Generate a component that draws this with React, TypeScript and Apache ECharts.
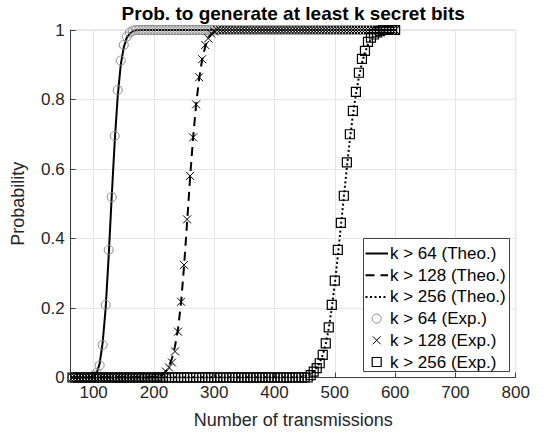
import React, { useEffect, useRef } from "react";
import * as echarts from "echarts";

const FONT = "'Liberation Sans', Arial, Helvetica, sans-serif";

// Experimental sample grid (number of transmissions)
const expTx = [
  65, 70, 75, 80, 85, 90, 95, 100, 105, 110,
  115, 120, 125, 130, 135, 140, 145, 150, 155, 160,
  165, 170, 175, 180, 185, 190, 195, 200, 205, 210,
  215, 220, 225, 230, 235, 240, 245, 250, 255, 260,
  265, 270, 275, 280, 285, 290, 295, 300, 305, 310,
  315, 320, 325, 330, 335, 340, 345, 350, 355, 360,
  365, 370, 375, 380, 385, 390, 395, 400, 405, 410,
  415, 420, 425, 430, 435, 440, 445, 450, 455, 460,
  465, 470, 475, 480, 485, 490, 495, 500, 505, 510,
  515, 520, 525, 530, 535, 540, 545, 550, 555, 560,
  565, 570, 575, 580, 585, 590, 595, 600,
];

const exp64 = [
  0, 0, 0, 0, 0, 0, 0, 0.005, 0.013, 0.035,
  0.094, 0.209, 0.367, 0.519, 0.695, 0.827, 0.912, 0.957, 0.981, 0.993,
  0.998, 1, 1, 1, 1, 1, 1, 1, 1, 1,
  1, 1, 1, 1, 1, 1, 1, 1, 1, 1,
  1, 1, 1, 1, 1, 1, 1, 1, 1, 1,
  1, 1, 1, 1, 1, 1, 1, 1, 1, 1,
  1, 1, 1, 1, 1, 1, 1, 1, 1, 1,
  1, 1, 1, 1, 1, 1, 1, 1, 1, 1,
  1, 1, 1, 1, 1, 1, 1, 1, 1, 1,
  1, 1, 1, 1, 1, 1, 1, 1, 1, 1,
  1, 1, 1, 1, 1, 1, 1, 1,
];

const exp128 = [
  0, 0, 0, 0, 0, 0, 0, 0, 0, 0,
  0, 0, 0, 0, 0, 0, 0, 0, 0, 0,
  0, 0, 0, 0, 0, 0, 0, 0, 0, 0,
  0, 0.017, 0.029, 0.043, 0.075, 0.132, 0.218, 0.324, 0.455, 0.58,
  0.691, 0.786, 0.864, 0.916, 0.957, 0.976, 0.99, 0.996, 1, 1,
  1, 1, 1, 1, 1, 1, 1, 1, 1, 1,
  1, 1, 1, 1, 1, 1, 1, 1, 1, 1,
  1, 1, 1, 1, 1, 1, 1, 1, 1, 1,
  1, 1, 1, 1, 1, 1, 1, 1, 1, 1,
  1, 1, 1, 1, 1, 1, 1, 1, 1, 1,
  1, 1, 1, 1, 1, 1, 1, 1,
];

const exp256 = [
  0, 0, 0, 0, 0, 0, 0, 0, 0, 0,
  0, 0, 0, 0, 0, 0, 0, 0, 0, 0,
  0, 0, 0, 0, 0, 0, 0, 0, 0, 0,
  0, 0, 0, 0, 0, 0, 0, 0, 0, 0,
  0, 0, 0, 0, 0, 0, 0, 0, 0, 0,
  0, 0, 0, 0, 0, 0, 0, 0, 0, 0,
  0, 0, 0, 0, 0, 0, 0, 0, 0, 0,
  0, 0, 0, 0, 0, 0, 0, 0, 0, 0.007,
  0.017, 0.027, 0.041, 0.065, 0.098, 0.144, 0.209, 0.279, 0.367, 0.445,
  0.523, 0.619, 0.7, 0.767, 0.822, 0.877, 0.917, 0.94, 0.966, 0.978,
  0.987, 0.993, 0.997, 1, 1, 1, 1, 1,
];

// Theoretical curves
const theo64Tx = [62, 95, 100, 105, 110, 115, 120, 125, 130, 135, 140, 145, 150, 155, 160, 165, 170, 180, 600];
const theo64 = [0, 0.001, 0.004, 0.012, 0.04, 0.1, 0.2, 0.35, 0.52, 0.68, 0.81, 0.9, 0.95, 0.978, 0.99, 0.996, 0.999, 1, 1];

const theo128Tx = [62, 200, 210, 215, 220, 225, 230, 235, 240, 245, 250, 255, 260, 265, 270, 275, 280, 285, 290, 295, 300, 310, 320, 600];
const theo128 = [0, 0.001, 0.004, 0.009, 0.018, 0.033, 0.055, 0.09, 0.14, 0.215, 0.32, 0.445, 0.575, 0.69, 0.785, 0.86, 0.915, 0.952, 0.975, 0.988, 0.995, 0.999, 1, 1];

const theo256Tx = [62, 430, 440, 450, 455, 460, 465, 470, 475, 480, 485, 490, 495, 500, 505, 510, 515, 520, 525, 530, 535, 540, 545, 550, 555, 560, 565, 570, 580, 590, 600];
const theo256 = [0, 0.001, 0.002, 0.004, 0.007, 0.011, 0.018, 0.028, 0.043, 0.065, 0.097, 0.142, 0.2, 0.27, 0.35, 0.435, 0.52, 0.605, 0.685, 0.755, 0.815, 0.865, 0.905, 0.935, 0.958, 0.974, 0.985, 0.992, 0.998, 1, 1];

const legendLabels = [
  "k > 64 (Theo.)",
  "k > 128 (Theo.)",
  "k > 256 (Theo.)",
  "k > 64 (Exp.)",
  "k > 128 (Exp.)",
  "k > 256 (Exp.)",
];

const xTicks = [100, 200, 300, 400, 500, 600, 700, 800];

const TITLE = "Prob. to generate at least k secret bits";

const DASH = [9, 6];
const DOT = [2, 2.5];
const CIRCLE_COLOR = "#8a8a8a";
const CROSS = "path://M0 0L10 10M10 0L0 10";

export default function App() {
  const ref = useRef<HTMLDivElement>(null);

  useEffect(() => {
    if (!ref.current) return;
    const chart = echarts.init(ref.current, null, { renderer: "svg" });
    const pairs = (xs: number[], ys: number[]) => xs.map((x, i) => [x, ys[i]]);

    const L = { x: 363.5, y: 238.5, w: 146, h: 133 };
    const rowY = (i: number) => L.y + 15 + i * 21.7;
    const sx1 = 365.5, sx2 = 388, mx = 376.7, tx = 390;
    const Z = 100;

    const legendEls: any[] = [
      {
        type: "rect",
        z: Z,
        shape: { x: L.x, y: L.y, width: L.w, height: L.h },
        style: { fill: "#fff", stroke: "#404040", lineWidth: 1 },
      },
      { type: "line", z: Z + 1, shape: { x1: sx1, y1: rowY(0), x2: sx2, y2: rowY(0) }, style: { stroke: "#000", lineWidth: 2 } },
      { type: "line", z: Z + 1, shape: { x1: sx1, y1: rowY(1), x2: sx2, y2: rowY(1) }, style: { stroke: "#000", lineWidth: 2, lineDash: DASH } },
      { type: "line", z: Z + 1, shape: { x1: sx1, y1: rowY(2), x2: sx2, y2: rowY(2) }, style: { stroke: "#000", lineWidth: 2, lineDash: DOT } },
      { type: "circle", z: Z + 1, shape: { cx: mx, cy: rowY(3), r: 4.5 }, style: { fill: "none", stroke: CIRCLE_COLOR, lineWidth: 1 } },
      { type: "line", z: Z + 1, shape: { x1: mx - 4, y1: rowY(4) - 4, x2: mx + 4, y2: rowY(4) + 4 }, style: { stroke: "#000", lineWidth: 1 } },
      { type: "line", z: Z + 1, shape: { x1: mx - 4, y1: rowY(4) + 4, x2: mx + 4, y2: rowY(4) - 4 }, style: { stroke: "#000", lineWidth: 1 } },
      { type: "rect", z: Z + 1, shape: { x: mx - 4.5, y: rowY(5) - 4.5, width: 9, height: 9 }, style: { fill: "none", stroke: "#000", lineWidth: 1.2 } },
      ...legendLabels.map((t, i) => ({
        type: "text",
        z: Z + 1,
        style: { x: tx, y: rowY(i), text: t, fill: "#000", font: `17px ${FONT}`, verticalAlign: "middle", textAlign: "left" },
      })),
    ];

    const lineSeries = (name: string, xs: number[], ys: number[], type: any) => ({
      name,
      type: "line",
      data: pairs(xs, ys),
      symbol: "none",
      clip: false,
      z: 2,
      lineStyle: { color: "#000", width: 2, type },
      silent: true,
    });

    const scatterSeries = (name: string, ys: number[], symbol: string, size: number, color: string, bw: number) => ({
      name,
      type: "scatter",
      data: pairs(expTx, ys),
      symbol,
      symbolSize: size,
      clip: false,
      z: 3,
      itemStyle: { color: "rgba(0,0,0,0)", borderColor: color, borderWidth: bw, opacity: 1 },
      silent: true,
    });

    chart.setOption({
      animation: false,
      backgroundColor: "#fff",
      textStyle: { fontFamily: FONT },
      grid: {
        left: 70.7,
        right: 29.3,
        top: 30,
        bottom: 58.5,
        show: true,
        borderColor: "#d4d4d4",
        borderWidth: 1,
        backgroundColor: "transparent",
      },
      xAxis: {
        type: "value",
        min: 62,
        max: 800,
        splitNumber: xTicks.length,
        minInterval: 100,
        maxInterval: 100,
        name: "Number of transmissions",
        nameLocation: "middle",
        nameGap: 33,
        nameTextStyle: { fontFamily: FONT, fontSize: 18, color: "#262626" },
        axisLine: { show: true, onZero: false, lineStyle: { color: "#404040", width: 1 } },
        axisTick: { show: true, inside: true, length: 5, lineStyle: { color: "#404040" } },
        axisLabel: { showMinLabel: false, margin: 6, fontSize: 17, color: "#262626", fontFamily: FONT },
        splitLine: { show: true, lineStyle: { color: "#e6e6e6", width: 1 } },
      },
      yAxis: {
        type: "value",
        min: 0,
        max: 1,
        interval: 0.2,
        name: "Probability",
        nameLocation: "middle",
        nameGap: 44,
        nameTextStyle: { fontFamily: FONT, fontSize: 18, color: "#262626" },
        axisLine: { show: true, onZero: false, lineStyle: { color: "#404040", width: 1 } },
        axisTick: { show: true, inside: true, length: 5, lineStyle: { color: "#404040" } },
        axisLabel: { margin: 6, fontSize: 17, color: "#262626", fontFamily: FONT },
        splitLine: { show: true, lineStyle: { color: "#e6e6e6", width: 1 } },
      },
      series: [
        lineSeries(legendLabels[0], theo64Tx, theo64, "solid"),
        lineSeries(legendLabels[1], theo128Tx, theo128, DASH),
        lineSeries(legendLabels[2], theo256Tx, theo256, DOT),
        scatterSeries(legendLabels[3], exp64, "circle", 9, CIRCLE_COLOR, 1),
        scatterSeries(legendLabels[4], exp128, CROSS, 8, "#000", 1),
        scatterSeries(legendLabels[5], exp256, "rect", 9, "#000", 1.2),
      ],
      graphic: [
        {
          type: "text",
          z: Z,
          style: {
            x: 293.2,
            y: 13,
            text: TITLE,
            fill: "#000",
            font: `bold 19px ${FONT}`,
            textAlign: "center",
            verticalAlign: "middle",
          },
        },
        ...legendEls,
      ],
    });

    return () => chart.dispose();
  }, []);

  return <div ref={ref} style={{ position: "absolute", left: 0, top: 0, width: 545, height: 436 }} />;
}
